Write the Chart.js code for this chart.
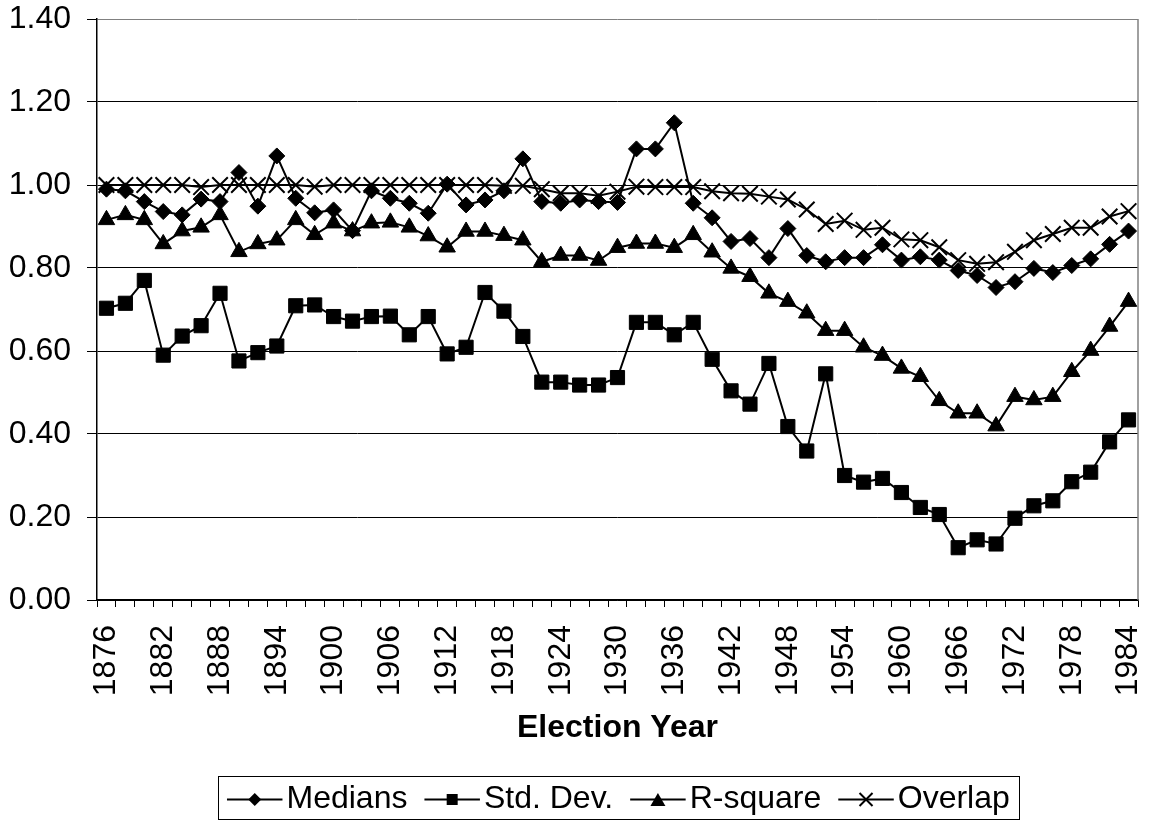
<!DOCTYPE html>
<html>
<head>
<meta charset="utf-8">
<script src="https://cdn.jsdelivr.net/npm/chart.js@4/dist/chart.umd.min.js"></script>
<style>
  html, body { margin: 0; padding: 0; background: #fff; }
  #wrap { width: 1151px; height: 821px; }
</style>
</head>
<body>
<div id="wrap"><canvas id="c" width="1151" height="821"></canvas></div>
<script>
// Election years on the category axis
const years = [
  1876, 1878, 1880, 1882, 1884, 1886, 1888, 1890, 1892, 1894, 1896,
  1898, 1900, 1902, 1904, 1906, 1908, 1910, 1912, 1914, 1916, 1918,
  1920, 1922, 1924, 1926, 1928, 1930, 1932, 1934, 1936, 1938, 1940,
  1942, 1944, 1946, 1948, 1950, 1952, 1954, 1956, 1958, 1960, 1962,
  1964, 1966, 1968, 1970, 1972, 1974, 1976, 1978, 1980, 1982, 1984
];

const medians = [
  0.990, 0.986, 0.960, 0.936, 0.928, 0.966, 0.960, 1.030, 0.949, 1.070, 0.968,
  0.933, 0.940, 0.890, 0.986, 0.968, 0.956, 0.932, 1.002, 0.952, 0.964, 0.986,
  1.063, 0.960, 0.956, 0.964, 0.960, 0.958, 1.087, 1.087, 1.150, 0.956, 0.921,
  0.864, 0.871, 0.825, 0.895, 0.830, 0.815, 0.825, 0.825, 0.856, 0.819, 0.827,
  0.819, 0.794, 0.782, 0.753, 0.767, 0.799, 0.789, 0.806, 0.822, 0.857, 0.889
];

const stdDev = [
  0.703, 0.715, 0.770, 0.590, 0.636, 0.661, 0.739, 0.576, 0.596, 0.612, 0.709,
  0.711, 0.683, 0.672, 0.683, 0.684, 0.639, 0.683, 0.593, 0.609, 0.741, 0.696,
  0.635, 0.525, 0.525, 0.518, 0.518, 0.536, 0.669, 0.669, 0.639, 0.669, 0.580,
  0.504, 0.472, 0.570, 0.418, 0.359, 0.545, 0.300, 0.284, 0.293, 0.259, 0.223,
  0.206, 0.126, 0.145, 0.135, 0.197, 0.227, 0.239, 0.285, 0.308, 0.381, 0.434
];

const rSquare = [
  0.916, 0.928, 0.916, 0.858, 0.889, 0.898, 0.928, 0.839, 0.858, 0.867, 0.916,
  0.880, 0.908, 0.889, 0.908, 0.910, 0.898, 0.877, 0.850, 0.888, 0.888, 0.878,
  0.867, 0.815, 0.830, 0.830, 0.818, 0.849, 0.859, 0.859, 0.849, 0.880, 0.838,
  0.799, 0.779, 0.739, 0.719, 0.691, 0.649, 0.649, 0.609, 0.589, 0.558, 0.538,
  0.480, 0.450, 0.450, 0.419, 0.490, 0.482, 0.490, 0.550, 0.601, 0.659, 0.719
];

const overlap = [
  1.000, 1.000, 1.000, 1.000, 1.000, 0.995, 1.000, 1.000, 1.000, 1.000, 1.000,
  0.996, 1.000, 1.000, 1.000, 1.000, 1.000, 1.000, 1.000, 1.000, 1.000, 0.998,
  0.998, 0.990, 0.980, 0.980, 0.974, 0.984, 0.996, 0.995, 0.995, 0.995, 0.985,
  0.980, 0.979, 0.972, 0.965, 0.941, 0.906, 0.914, 0.892, 0.897, 0.869, 0.867,
  0.850, 0.819, 0.810, 0.814, 0.839, 0.867, 0.882, 0.897, 0.897, 0.924, 0.937
];

const seriesNames = ['Medians', 'Std. Dev.', 'R-square', 'Overlap'];
const yTickValues = [0, 0.2, 0.4, 0.6, 0.8, 1.0, 1.2, 1.4];
const axisTitle = 'Election Year';

const FONT = "'Liberation Sans', Arial, Helvetica, sans-serif";
Chart.defaults.font.family = FONT;
Chart.defaults.color = '#000';

function lineSeries(label, data, style, radius, pointBorder) {
  return {
    label, data,
    borderColor: '#000', backgroundColor: '#000', borderWidth: 2,
    pointStyle: style, pointRadius: radius, pointHoverRadius: radius,
    pointBackgroundColor: '#000', pointBorderColor: '#000',
    pointBorderWidth: pointBorder, tension: 0, fill: false
  };
}

// small marker painter for the legend entries
function drawMarker(ctx, style, x, y) {
  ctx.save();
  ctx.fillStyle = '#000';
  ctx.strokeStyle = '#000';
  ctx.beginPath();
  if (style === 'rectRot') {
    const r = 6.5;
    ctx.moveTo(x, y - r); ctx.lineTo(x + r, y); ctx.lineTo(x, y + r); ctx.lineTo(x - r, y);
    ctx.closePath(); ctx.fill();
  } else if (style === 'rect') {
    const h = 5.5;
    ctx.rect(x - h, y - h, 2 * h, 2 * h); ctx.fill();
  } else if (style === 'triangle') {
    const w = 7.5, h = 6.5;
    ctx.moveTo(x, y - h); ctx.lineTo(x + w, y + h); ctx.lineTo(x - w, y + h);
    ctx.closePath(); ctx.fill();
  } else if (style === 'crossRot') {
    const h = 6.5;
    ctx.lineWidth = 2;
    ctx.moveTo(x - h, y - h); ctx.lineTo(x + h, y + h);
    ctx.moveTo(x + h, y - h); ctx.lineTo(x - h, y + h);
    ctx.stroke();
  }
  ctx.restore();
}

// bordered legend row under the axis title
const boxedLegend = {
  id: 'boxedLegend',
  afterDraw(chart) {
    const ctx = chart.ctx;
    const sets = chart.data.datasets;
    const lineLen = 55.5, textGap = 4, itemGap = 17, padX = 9.3;
    const centerX = 618.4, midY = 799.5, top = 776.5, bottom = 819.5;
    ctx.save();
    ctx.font = '32px ' + FONT;
    const widths = sets.map(d => ctx.measureText(d.label).width);
    let total = 0;
    widths.forEach((w, i) => { total += lineLen + textGap + w + (i ? itemGap : 0); });
    let x = centerX - total / 2;
    ctx.strokeStyle = '#000';
    ctx.lineWidth = 1;
    ctx.strokeRect(Math.round(x - padX) + 0.5, top, Math.round(total + 2 * padX), bottom - top);
    sets.forEach((d, i) => {
      ctx.beginPath();
      ctx.lineWidth = 2;
      ctx.moveTo(x, midY); ctx.lineTo(x + lineLen, midY);
      ctx.stroke();
      drawMarker(ctx, d.pointStyle, x + lineLen / 2, midY);
      ctx.fillStyle = '#000';
      ctx.textAlign = 'left';
      ctx.textBaseline = 'middle';
      ctx.fillText(d.label, x + lineLen + textGap, midY);
      x += lineLen + textGap + widths[i] + itemGap;
    });
    ctx.restore();
  }
};

// grey plot-area frame on the right edge
const plotFrame = {
  id: 'plotFrame',
  beforeDatasetsDraw(chart) {
    const {ctx, chartArea: a} = chart;
    ctx.save();
    ctx.strokeStyle = '#808080';
    ctx.lineWidth = 1.5;
    ctx.beginPath();
    ctx.moveTo(a.right, a.top); ctx.lineTo(a.right, a.bottom);
    ctx.stroke();
    ctx.restore();
  }
};

new Chart(document.getElementById('c'), {
  type: 'line',
  data: {
    labels: years.map(String),
    datasets: [
      lineSeries(seriesNames[0], medians, 'rectRot', 8, 1),
      lineSeries(seriesNames[1], stdDev, 'rect', 10, 1),
      lineSeries(seriesNames[2], rSquare, 'triangle', 9.5, 1),
      lineSeries(seriesNames[3], overlap, 'crossRot', 11, 2)
    ]
  },
  options: {
    responsive: false,
    animation: false,
    layout: { padding: { top: 19, right: 10, bottom: 71, left: 0 } },
    plugins: { legend: { display: false }, tooltip: { enabled: false } },
    scales: {
      x: {
        offset: true,
        border: { display: true, color: '#000', width: 1.5 },
        grid: { display: true, offset: true, drawOnChartArea: false, drawTicks: true,
                tickLength: 7, color: '#000', tickColor: '#000', lineWidth: 1 },
        ticks: {
          autoSkip: false, minRotation: 90, maxRotation: 90, padding: 18,
          font: { size: 32 }, color: '#000',
          callback: function (value, index) {
            return index % 3 === 0 ? this.getLabelForValue(value) : '';
          }
        },
        title: { display: true, text: axisTitle, color: '#000',
                 font: { size: 32, weight: 'bold' }, padding: { top: 0, bottom: 3 } },
        afterFit: s => {
          s.height = 150;
          s.paddingLeft = 0; s.paddingRight = 0; s.paddingTop = 0; s.paddingBottom = 0;
        }
      },
      y: {
        min: 0, max: 1.4,
        afterBuildTicks: s => { s.ticks = yTickValues.map(v => ({ value: v })); },
        border: { display: true, color: '#000', width: 1.5 },
        grid: {
          color: c => (c.tick && c.tick.value >= 1.39 ? '#808080' : '#000'),
          tickColor: '#000', lineWidth: 1, tickLength: 10
        },
        ticks: { padding: 16, font: { size: 32 }, color: '#000',
                 callback: v => Number(v).toFixed(2) },
        afterFit: s => {
          s.width = 97;
          s.paddingLeft = 0; s.paddingRight = 0; s.paddingTop = 0; s.paddingBottom = 0;
        }
      }
    }
  },
  plugins: [plotFrame, boxedLegend]
});
</script>
</body>
</html>
